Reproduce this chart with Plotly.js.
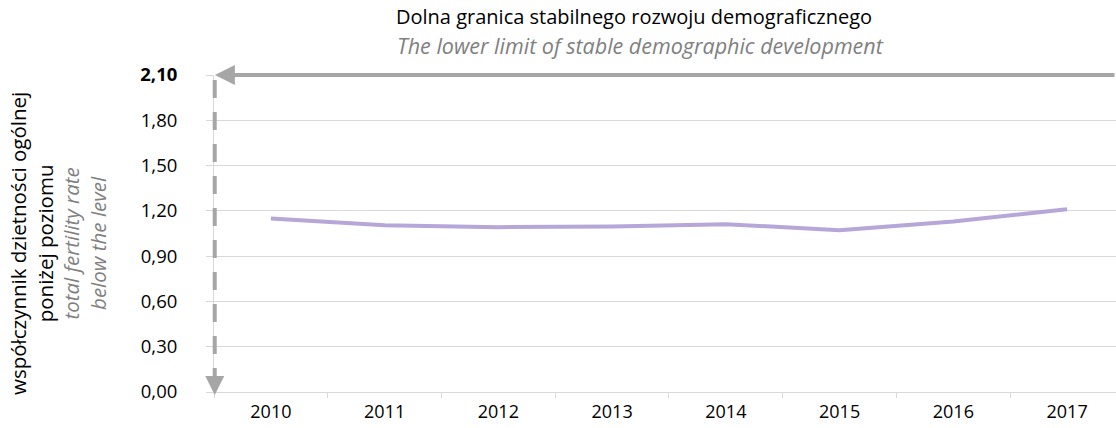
<!DOCTYPE html>
<html>
<head>
<meta charset="utf-8">
<script src="https://cdn.plot.ly/plotly-3.0.1.min.js"></script>
<style>html,body{margin:0;padding:0;background:#fff;}#chart{width:1116px;height:428px;}</style>
</head>
<body>
<div id="chart"></div>
<script>
const years = ['2010','2011','2012','2013','2014','2015','2016','2017'];
const fertility = [1.15, 1.105, 1.092, 1.096, 1.112, 1.072, 1.13, 1.21];
const yTickVals = [0, 0.3, 0.6, 0.9, 1.2, 1.5, 1.8, 2.1];
const yTickText = ['0,00','0,30','0,60','0,90','1,20','1,50','1,80','<b>2,10</b>'];
const stableLevel = 2.1;
const titlePl = 'Dolna granica stabilnego rozwoju demograficznego';
const titleEn = 'The lower limit of stable demographic development';
const yLabelPl = ['współczynnik dzietności ogólnej', 'poniżej poziomu'];
const yLabelEn = ['total fertility rate', 'below the level'];

const FONT = 'Open Sans, sans-serif';
const GREY = '#a6a6a6';
const W = 1116, L = 214, T = 75, PH = 317;

const trace = {
  type: 'scatter', mode: 'lines', x: years, y: fertility,
  line: {color: '#b7a6d8', width: 4}, hoverinfo: 'skip', cliponaxis: false
};

const layout = {
  width: W, height: 428,
  margin: {l: L, r: 0, t: T, b: 36, pad: 0},
  paper_bgcolor: '#fff', plot_bgcolor: '#fff',
  showlegend: false,
  font: {family: FONT, size: 18, color: '#000'},
  xaxis: {
    type: 'category', range: [-0.5, 7.43], fixedrange: true,
    showgrid: false, showline: true, linecolor: '#d9d9d9', linewidth: 1,
    ticks: 'outside', tickson: 'boundaries', ticklen: 5, tickcolor: '#d9d9d9',
    ticklabelstandoff: 3,
    tickfont: {family: FONT, size: 18, color: '#000'}, automargin: false
  },
  yaxis: {
    range: [0, 2.1], fixedrange: true,
    tickvals: yTickVals, ticktext: yTickText,
    showgrid: true, gridcolor: '#d9d9d9', gridwidth: 1, zeroline: false,
    showline: true, linecolor: '#d9d9d9', linewidth: 1,
    ticks: 'outside', ticklen: 7, tickcolor: '#d9d9d9', ticklabelstandoff: 25,
    tickfont: {family: FONT, size: 18.5, color: '#000'}, automargin: false
  },
  shapes: [
    {type: 'line', xref: 'paper', yref: 'paper', x0: 0.0008, x1: 0.0008,
     y0: 1 - 5 / PH, y1: 12 / PH,
     line: {color: GREY, width: 4, dash: '18px,14px'}}
  ],
  annotations: [
    {xref: 'paper', yref: 'paper', x: 0.001, y: 1, showarrow: true, text: '',
     axref: 'pixel', ayref: 'pixel', ax: W - L, ay: 0,
     arrowhead: 2, arrowsize: 1, arrowwidth: 4, arrowcolor: GREY, standoff: 0},
    {xref: 'paper', yref: 'paper', x: 0.0008, y: -3 / PH, showarrow: true, text: '',
     axref: 'pixel', ayref: 'pixel', ax: 0, ay: -16,
     arrowhead: 2, arrowsize: 0.95, arrowwidth: 4, arrowcolor: GREY, standoff: 0},
    {xref: 'paper', yref: 'paper', x: (634 - L) / (W - L), y: 1, yshift: 59,
     xanchor: 'center', yanchor: 'middle', showarrow: false,
     text: titlePl, font: {family: FONT, size: 20, color: '#000'}},
    {xref: 'paper', yref: 'paper', x: (640 - L) / (W - L), y: 1, yshift: 30,
     xanchor: 'center', yanchor: 'middle', showarrow: false,
     text: '<i>' + titleEn + '</i>', font: {family: FONT, size: 21.5, color: '#808080'}},
    {xref: 'paper', yref: 'paper', x: (58 - L) / (W - L), y: (392 - 244) / PH,
     xanchor: 'center', yanchor: 'middle', showarrow: false, textangle: -90,
     text: yLabelPl[0] + '<br>' + yLabelPl[1] + '<br><span style="color:#808080"><i>' + yLabelEn[0] + '</i></span><br><span style="color:#808080"><i>' + yLabelEn[1] + '</i></span>',
     font: {family: FONT, size: 20.5, color: '#000'}}
  ]
};

Plotly.newPlot('chart', [trace], layout, {displayModeBar: false, staticPlot: true});
</script>
</body>
</html>
